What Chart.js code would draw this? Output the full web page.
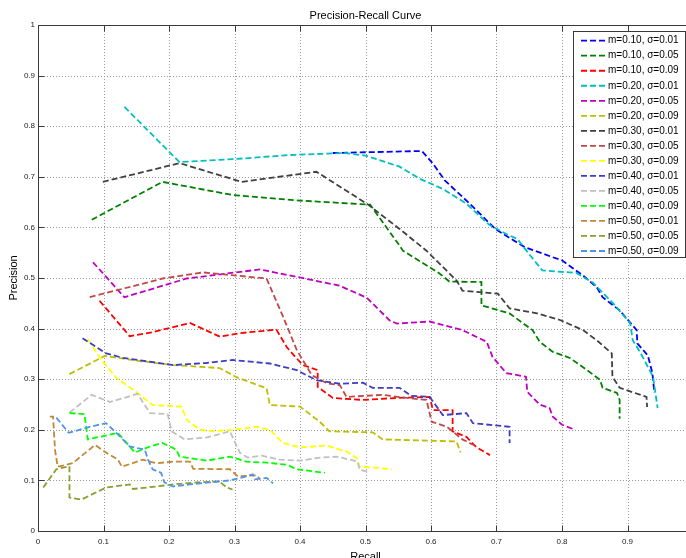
<!DOCTYPE html>
<html>
<head>
<meta charset="utf-8">
<title>Precision-Recall Curve</title>
<script src="https://cdn.jsdelivr.net/npm/chart.js@4.4.1/dist/chart.umd.min.js"></script>
<style>
  html, body { margin: 0; padding: 0; background: #fff; overflow: hidden; }
  #wrap { width: 720px; height: 558px; }
</style>
</head>
<body>
<div id="wrap"><canvas id="prChart" width="720" height="558"></canvas></div>
<script>
// Each curve is a list of [recall, precision] points
const m10s01 = [[0.450,0.747],[0.586,0.751],[0.603,0.726],[0.621,0.693],[0.659,0.647],[0.699,0.596],[0.743,0.561],[0.786,0.541],[0.800,0.535],[0.832,0.505],[0.853,0.482],[0.862,0.462],[0.888,0.436],[0.914,0.397],[0.915,0.371],[0.931,0.347],[0.938,0.312],[0.941,0.273]];
const m10s05 = [[0.082,0.615],[0.190,0.690],[0.297,0.664],[0.400,0.653],[0.507,0.645],[0.552,0.564],[0.557,0.554],[0.613,0.509],[0.628,0.493],[0.677,0.492],[0.677,0.446],[0.720,0.430],[0.755,0.397],[0.766,0.374],[0.786,0.354],[0.812,0.342],[0.838,0.318],[0.858,0.299],[0.862,0.283],[0.884,0.273],[0.888,0.259],[0.888,0.222]];
const m10s09 = [[0.094,0.455],[0.140,0.385],[0.175,0.393],[0.232,0.411],[0.278,0.384],[0.308,0.391],[0.364,0.398],[0.380,0.363],[0.404,0.328],[0.427,0.318],[0.427,0.285],[0.450,0.263],[0.496,0.259],[0.548,0.263],[0.598,0.265],[0.603,0.239],[0.633,0.239],[0.633,0.197],[0.654,0.186],[0.669,0.166],[0.690,0.150]];
const m20s01 = [[0.132,0.838],[0.216,0.729],[0.300,0.735],[0.384,0.743],[0.468,0.747],[0.500,0.742],[0.552,0.720],[0.583,0.696],[0.618,0.676],[0.654,0.647],[0.689,0.605],[0.715,0.587],[0.732,0.577],[0.750,0.547],[0.770,0.515],[0.822,0.510],[0.847,0.491],[0.878,0.450],[0.904,0.411],[0.908,0.377],[0.919,0.354],[0.939,0.305],[0.946,0.243]];
const m20s05 = [[0.084,0.531],[0.132,0.462],[0.227,0.499],[0.339,0.517],[0.460,0.485],[0.502,0.461],[0.537,0.416],[0.548,0.410],[0.598,0.414],[0.648,0.397],[0.685,0.374],[0.694,0.344],[0.715,0.312],[0.745,0.305],[0.747,0.275],[0.766,0.250],[0.781,0.243],[0.786,0.226],[0.800,0.210],[0.820,0.200]];
const m20s09 = [[0.048,0.310],[0.102,0.346],[0.155,0.336],[0.206,0.328],[0.277,0.322],[0.303,0.304],[0.349,0.282],[0.354,0.249],[0.400,0.246],[0.430,0.216],[0.445,0.197],[0.511,0.195],[0.526,0.181],[0.639,0.177],[0.645,0.155]];
const m30s01 = [[0.099,0.690],[0.216,0.727],[0.311,0.690],[0.425,0.710],[0.503,0.646],[0.552,0.597],[0.593,0.554],[0.639,0.495],[0.648,0.475],[0.702,0.469],[0.720,0.440],[0.762,0.430],[0.797,0.417],[0.832,0.397],[0.853,0.377],[0.876,0.351],[0.877,0.305],[0.888,0.283],[0.929,0.265],[0.930,0.245]];
const m30s05 = [[0.079,0.462],[0.190,0.499],[0.252,0.511],[0.349,0.499],[0.374,0.424],[0.395,0.358],[0.418,0.308],[0.441,0.292],[0.461,0.288],[0.471,0.265],[0.526,0.269],[0.563,0.263],[0.593,0.259],[0.601,0.216],[0.624,0.206],[0.633,0.197],[0.648,0.181],[0.665,0.170]];
const m30s09 = [[0.076,0.379],[0.097,0.338],[0.120,0.302],[0.150,0.275],[0.175,0.249],[0.219,0.246],[0.227,0.220],[0.247,0.200],[0.267,0.197],[0.297,0.200],[0.334,0.206],[0.354,0.200],[0.374,0.174],[0.400,0.165],[0.440,0.169],[0.471,0.157],[0.486,0.145],[0.491,0.127],[0.517,0.125],[0.540,0.122]];
const m40s01 = [[0.068,0.381],[0.104,0.351],[0.130,0.342],[0.206,0.328],[0.257,0.332],[0.297,0.338],[0.354,0.331],[0.395,0.318],[0.425,0.298],[0.461,0.291],[0.496,0.293],[0.511,0.283],[0.552,0.283],[0.570,0.267],[0.598,0.265],[0.618,0.229],[0.654,0.233],[0.664,0.213],[0.720,0.206],[0.720,0.174]];
const m40s05 = [[0.048,0.234],[0.082,0.269],[0.110,0.255],[0.152,0.271],[0.171,0.233],[0.198,0.231],[0.204,0.197],[0.224,0.181],[0.258,0.185],[0.293,0.197],[0.308,0.155],[0.320,0.145],[0.342,0.149],[0.369,0.141],[0.400,0.139],[0.430,0.145],[0.456,0.147],[0.476,0.141],[0.488,0.137],[0.491,0.121],[0.503,0.117]];
const m40s09 = [[0.048,0.233],[0.071,0.231],[0.076,0.181],[0.122,0.194],[0.148,0.155],[0.171,0.167],[0.190,0.174],[0.211,0.161],[0.216,0.147],[0.258,0.139],[0.293,0.147],[0.318,0.137],[0.349,0.135],[0.380,0.131],[0.395,0.122],[0.438,0.115]];
const m50s01 = [[0.018,0.226],[0.023,0.226],[0.026,0.160],[0.030,0.127],[0.053,0.134],[0.087,0.170],[0.104,0.155],[0.122,0.141],[0.128,0.127],[0.160,0.141],[0.181,0.134],[0.206,0.137],[0.232,0.137],[0.237,0.123],[0.293,0.122],[0.305,0.108],[0.334,0.110],[0.339,0.102]];
const m50s05 = [[0.008,0.086],[0.028,0.122],[0.048,0.128],[0.048,0.066],[0.066,0.062],[0.104,0.086],[0.140,0.092],[0.145,0.083],[0.181,0.088],[0.206,0.092],[0.242,0.096],[0.277,0.098],[0.288,0.086],[0.297,0.082]];
const m50s09 = [[0.028,0.224],[0.047,0.194],[0.079,0.206],[0.104,0.213],[0.122,0.191],[0.140,0.167],[0.163,0.161],[0.168,0.141],[0.175,0.122],[0.188,0.115],[0.193,0.096],[0.206,0.088],[0.232,0.092],[0.262,0.096],[0.293,0.100],[0.318,0.108],[0.328,0.112],[0.331,0.102],[0.349,0.105],[0.359,0.094]];

const seriesPoints = [m10s01, m10s05, m10s09, m20s01, m20s05, m20s09, m30s01, m30s05, m30s09, m40s01, m40s05, m40s09, m50s01, m50s05, m50s09];
const seriesLabels = [
    'm=0.10, σ=0.01', 'm=0.10, σ=0.05', 'm=0.10, σ=0.09',
    'm=0.20, σ=0.01', 'm=0.20, σ=0.05', 'm=0.20, σ=0.09',
    'm=0.30, σ=0.01', 'm=0.30, σ=0.05', 'm=0.30, σ=0.09',
    'm=0.40, σ=0.01', 'm=0.40, σ=0.05', 'm=0.40, σ=0.09',
    'm=0.50, σ=0.01', 'm=0.50, σ=0.05', 'm=0.50, σ=0.09'
];
const seriesColors = [
    '#0000ff', '#008000', '#ff0000',
    '#00bfbf', '#bf00bf', '#bfbf00',
    '#404040', '#c04848', '#ffff00',
    '#3c3cc8', '#c0c0c0', '#00ff00',
    '#c08838', '#88a030', '#5094e8'
];

const FONT = "'Liberation Sans', Arial, sans-serif";
const TICK_STEP = 0.1;

// MATLAB-style axes: dotted grid, boxed frame with inward ticks, inset legend, titles
const axesFrame = {
    id: 'axesFrame',
    beforeDatasetsDraw(chart) {
        const { ctx, chartArea: a, scales: { x, y } } = chart;
        ctx.save();
        ctx.strokeStyle = '#999';
        ctx.lineWidth = 1;
        ctx.setLineDash([1, 2]);
        ctx.beginPath();
        x.ticks.forEach(t => {
            if (t.value < 1e-6 || t.value > 1 - 1e-6) return;
            const px = Math.round(x.getPixelForValue(t.value)) + 0.5;
            ctx.moveTo(px, a.top);
            ctx.lineTo(px, a.bottom);
        });
        y.ticks.forEach(t => {
            if (t.value < 1e-6 || t.value > 1 - 1e-6) return;
            const py = Math.round(y.getPixelForValue(t.value)) + 0.5;
            ctx.moveTo(a.left, py);
            ctx.lineTo(a.right, py);
        });
        ctx.stroke();
        ctx.restore();
    },
    afterDatasetsDraw(chart) {
        const { ctx, chartArea: a, scales: { x, y } } = chart;
        const L = Math.round(a.left) + 0.5, R = Math.round(a.right) + 0.5;
        const T = Math.round(a.top) + 0.5, B = Math.round(a.bottom) + 0.5;
        const tick = 6;
        ctx.save();
        ctx.strokeStyle = '#3a3a3a';
        ctx.lineWidth = 1;
        ctx.strokeRect(L, T, R - L, B - T);
        ctx.beginPath();
        x.ticks.forEach(t => {
            const px = Math.round(x.getPixelForValue(t.value)) + 0.5;
            ctx.moveTo(px, B); ctx.lineTo(px, B - tick);
            ctx.moveTo(px, T); ctx.lineTo(px, T + tick);
        });
        y.ticks.forEach(t => {
            const py = Math.round(y.getPixelForValue(t.value)) + 0.5;
            ctx.moveTo(L, py); ctx.lineTo(L + tick, py);
            ctx.moveTo(R, py); ctx.lineTo(R - tick, py);
        });
        ctx.stroke();
        ctx.restore();
    },
    afterDraw(chart) {
        const { ctx, chartArea: a } = chart;
        ctx.save();

        // legend box
        const lx = 573.5, ly = 31.5, lw = 112, lh = 226;
        ctx.fillStyle = '#fff';
        ctx.fillRect(lx, ly, lw, lh);
        ctx.strokeStyle = '#3a3a3a';
        ctx.lineWidth = 1;
        ctx.strokeRect(lx, ly, lw, lh);
        ctx.font = `10px ${FONT}`;
        ctx.textAlign = 'left';
        ctx.textBaseline = 'middle';
        chart.data.datasets.forEach((ds, i) => {
            const rowY = 40.7 + 15.02 * i;
            ctx.setLineDash(ds.borderDash);
            ctx.strokeStyle = ds.borderColor;
            ctx.lineWidth = ds.borderWidth;
            ctx.beginPath();
            ctx.moveTo(581, rowY);
            ctx.lineTo(606, rowY);
            ctx.stroke();
            ctx.setLineDash([]);
            ctx.fillStyle = '#000';
            ctx.fillText(ds.label, 608, rowY);
        });

        // title and axis labels
        ctx.fillStyle = '#000';
        ctx.font = `11px ${FONT}`;
        ctx.textAlign = 'center';
        ctx.textBaseline = 'alphabetic';
        const cx = (a.left + a.right) / 2;
        ctx.fillText('Precision-Recall Curve', cx, 19);
        ctx.fillText('Recall', cx, 560);
        ctx.translate(13.5, (a.top + a.bottom) / 2);
        ctx.rotate(-Math.PI / 2);
        ctx.textBaseline = 'middle';
        ctx.fillText('Precision', 0, 0);
        ctx.restore();
    }
};

const tickFormat = v => +Number(v).toFixed(1);

new Chart(document.getElementById('prChart'), {
    type: 'scatter',
    data: {
        datasets: seriesPoints.map((pts, i) => ({
            label: seriesLabels[i],
            data: pts.map(([r, p]) => ({ x: r, y: p })),
            showLine: true,
            borderColor: seriesColors[i],
            backgroundColor: seriesColors[i],
            borderWidth: 1.8,
            borderDash: [6, 3],
            pointRadius: 0,
            pointHoverRadius: 0,
            fill: false,
            tension: 0,
            order: seriesPoints.length - 1 - i
        }))
    },
    options: {
        responsive: false,
        animation: false,
        devicePixelRatio: 1,
        layout: { padding: { top: 25, right: 27, left: 0, bottom: 0 } },
        plugins: {
            legend: { display: false },
            tooltip: { enabled: false },
            title: { display: false }
        },
        scales: {
            x: {
                type: 'linear',
                min: 0,
                max: 1,
                grid: { display: false, drawTicks: false },
                border: { display: false },
                ticks: {
                    stepSize: TICK_STEP,
                    autoSkip: false,
                    maxRotation: 0,
                    padding: 6,
                    color: '#222',
                    font: { family: FONT, size: 8 },
                    callback: tickFormat
                },
                afterFit: s => { s.height = 27; }
            },
            y: {
                type: 'linear',
                min: 0,
                max: 1,
                grid: { display: false, drawTicks: false },
                border: { display: false },
                ticks: {
                    stepSize: TICK_STEP,
                    autoSkip: false,
                    padding: 3,
                    color: '#222',
                    font: { family: FONT, size: 8 },
                    callback: tickFormat
                },
                afterFit: s => { s.width = 38; }
            }
        }
    },
    plugins: [axesFrame]
});
</script>
</body>
</html>
